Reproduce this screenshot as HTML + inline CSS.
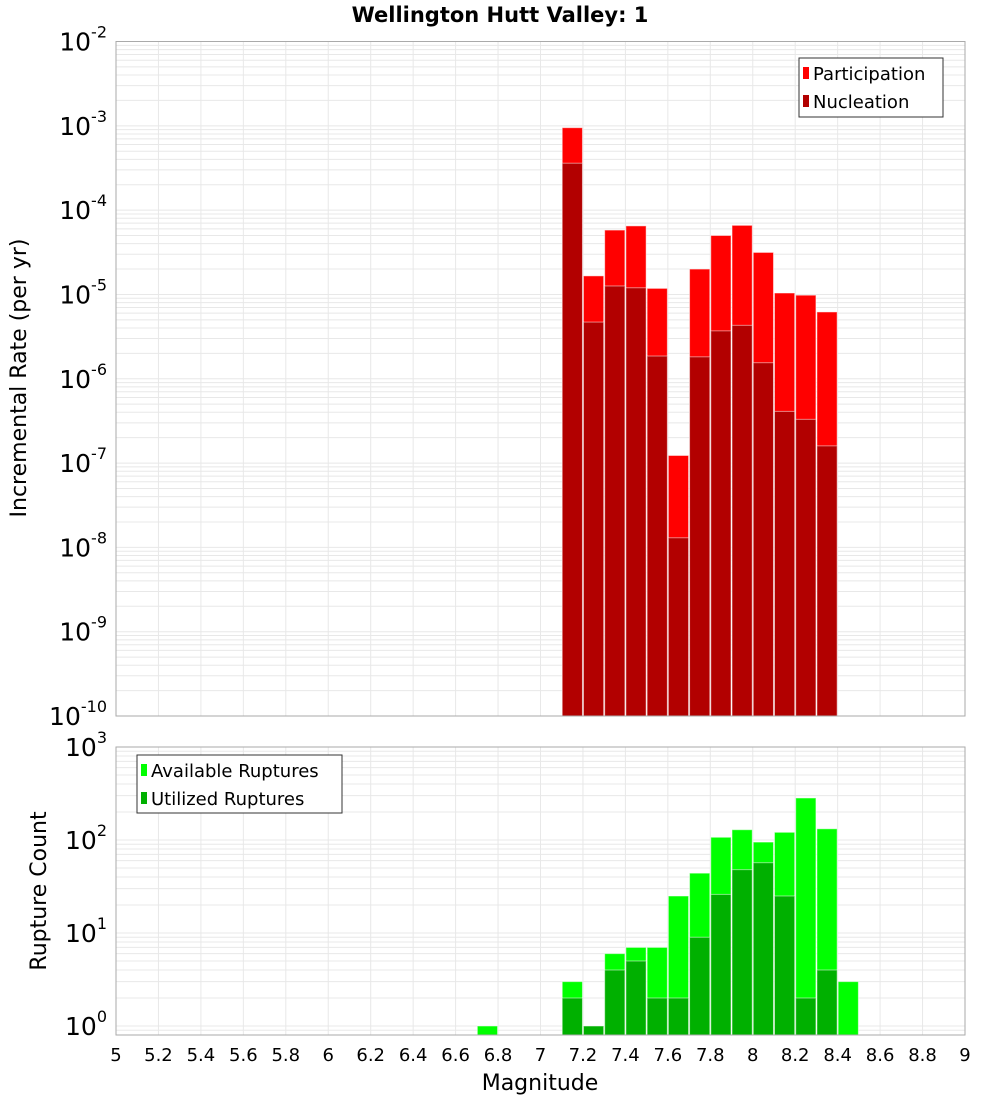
<!DOCTYPE html>
<html><head><meta charset="utf-8"><style>
html,body{margin:0;padding:0;background:#fff;}
svg{display:block;font-family:"Liberation Sans","DejaVu Sans",sans-serif;}
</style></head><body>
<svg id="chart" width="1000" height="1100" xmlns="http://www.w3.org/2000/svg">
<text x="500" y="22" text-anchor="middle" font-size="21" font-weight="bold" font-family="DejaVu Sans, sans-serif">Wellington Hutt Valley: 1</text>
<g id="topPanel"></g>
<g id="botPanel"></g>
<text transform="translate(26,378) rotate(-90)" text-anchor="middle" font-size="22" font-family="DejaVu Sans, sans-serif">Incremental Rate (per yr)</text>
<text transform="translate(46,891) rotate(-90)" text-anchor="middle" font-size="22" font-family="DejaVu Sans, sans-serif">Rupture Count</text>
<text x="540" y="1090" text-anchor="middle" font-size="22" font-family="DejaVu Sans, sans-serif">Magnitude</text>
<g>
<rect x="799" y="58" width="144" height="59" fill="#fff" stroke="#333" stroke-width="1"/>
<rect x="803" y="67" width="6" height="12" fill="#ff0000"/>
<text x="813" y="80" font-size="18" font-family="DejaVu Sans, sans-serif">Participation</text>
<rect x="803" y="95" width="6" height="12" fill="#b20000"/>
<text x="813" y="108" font-size="18" font-family="DejaVu Sans, sans-serif">Nucleation</text>
</g>
<g>
<rect x="137" y="755" width="205" height="58" fill="#fff" stroke="#333" stroke-width="1"/>
<rect x="141" y="764" width="6" height="12" fill="#00ff00"/>
<text x="151" y="777" font-size="18" font-family="DejaVu Sans, sans-serif">Available Ruptures</text>
<rect x="141" y="792" width="6" height="12" fill="#00b000"/>
<text x="151" y="805" font-size="18" font-family="DejaVu Sans, sans-serif">Utilized Ruptures</text>
</g>
</svg>
<script>
const rateMags=[7.1,7.2,7.3,7.4,7.5,7.6,7.7,7.8,7.9,8.0,8.1,8.2,8.3];
const participation=[9.5e-4,1.66e-5,5.8e-5,6.5e-5,1.18e-5,1.23e-7,2.0e-5,5.0e-5,6.6e-5,3.15e-5,1.04e-5,9.8e-6,6.2e-6];
const nucleation=[3.6e-4,4.7e-6,1.26e-5,1.2e-5,1.86e-6,1.3e-8,1.82e-6,3.7e-6,4.3e-6,1.55e-6,4.1e-7,3.3e-7,1.6e-7];
const countMags=[6.7,7.1,7.2,7.3,7.4,7.5,7.6,7.7,7.8,7.9,8.0,8.1,8.2,8.3,8.4];
const available=[1,3,1,6,7,7,25,44,107,129,95,121,283,132,3];
const utilized=[0,2,1,4,5,2,2,9,26,48,57,25,2,4,0];
const xTicks=[5,5.2,5.4,5.6,5.8,6,6.2,6.4,6.6,6.8,7,7.2,7.4,7.6,7.8,8,8.2,8.4,8.6,8.8,9];

const NS="http://www.w3.org/2000/svg";
const X0=116,X1=965;
const xs=m=>X0+(m-5)/4*(X1-X0);
const T={top:41.5,bot:716,lo:-10,hi:-2};
const B={top:747,bot:1035,y0:1026,dec:93};
const yT=v=>T.bot-(Math.log10(v)-T.lo)/(T.hi-T.lo)*(T.bot-T.top);
const yB=v=>B.y0-Math.log10(v)*B.dec;
function el(p,tag,a){const e=document.createElementNS(NS,tag);for(const k in a)e.setAttribute(k,a[k]);p.appendChild(e);return e;}
const gTop=document.getElementById('topPanel'),gBot=document.getElementById('botPanel');

function grid(g,P,yf,dmin,dmax){
  el(g,'rect',{x:X0,y:P.top,width:X1-X0,height:P.bot-P.top,fill:'#fff'});
  for(let d=dmin;d<=dmax;d++)for(let k=1;k<10;k++){const y=yf(k*Math.pow(10,d));if(y<P.top-0.1||y>P.bot+0.1)continue;
    const l=el(g,'line',{x1:X0,x2:X1,y1:y,y2:y,stroke:'#e8e8e8','stroke-width':1});
    
    }
  xTicks.forEach(t=>{const l=el(g,'line',{x1:xs(t),x2:xs(t),y1:P.top,y2:P.bot,stroke:'#e8e8e8','stroke-width':1});
    
    });
}
grid(gTop,T,yT,-10,-3);
grid(gBot,B,yB,-1,2);

function bars(g,mags,vals,yf,base,color,name){
  mags.forEach((m,i)=>{if(!(vals[i]>0))return;const y=yf(vals[i]);
    const r=el(g,'rect',{x:xs(m)+0.5,y:y,width:xs(m+0.1)-xs(m)-1,height:base-y,fill:color,stroke:'rgba(255,255,255,0.5)','stroke-width':1});
    
    });
}
bars(gTop,rateMags,participation,yT,T.bot,'#ff0000','participation-bar');
bars(gTop,rateMags,nucleation,yT,T.bot,'#b20000','nucleation-bar');
bars(gBot,countMags,available,yB,B.bot,'#00ff00','available-bar');
bars(gBot,countMags,utilized,yB,B.bot,'#00b000','utilized-bar');

[[gTop,T],[gBot,B]].forEach(([g,P])=>{const f=el(g,'rect',{x:X0,y:P.top,width:X1-X0,height:P.bot-P.top,fill:'none',stroke:'#aaa','stroke-width':1});
  
  });

function ylab(g,e,y){const t=el(g,'text',{x:107,y:y+9,'text-anchor':'end','font-size':25,'font-family':'DejaVu Sans, sans-serif'});
  
  
  const a=el(t,'tspan',{});a.textContent='10';
  const b=el(t,'tspan',{dy:-13,'font-size':16});b.textContent=String(e);}
for(let e=-10;e<=-2;e++)ylab(gTop,e,yT(Math.pow(10,e)));
for(let e=0;e<=3;e++)ylab(gBot,e,yB(Math.pow(10,e)));

xTicks.forEach(t=>{const s=el(gBot,'text',{x:xs(t),y:1061,'text-anchor':'middle','font-size':18,'font-family':'DejaVu Sans, sans-serif'});
  
  
  s.textContent=String(Math.round(t*10)/10);});
</script>
</body></html>
